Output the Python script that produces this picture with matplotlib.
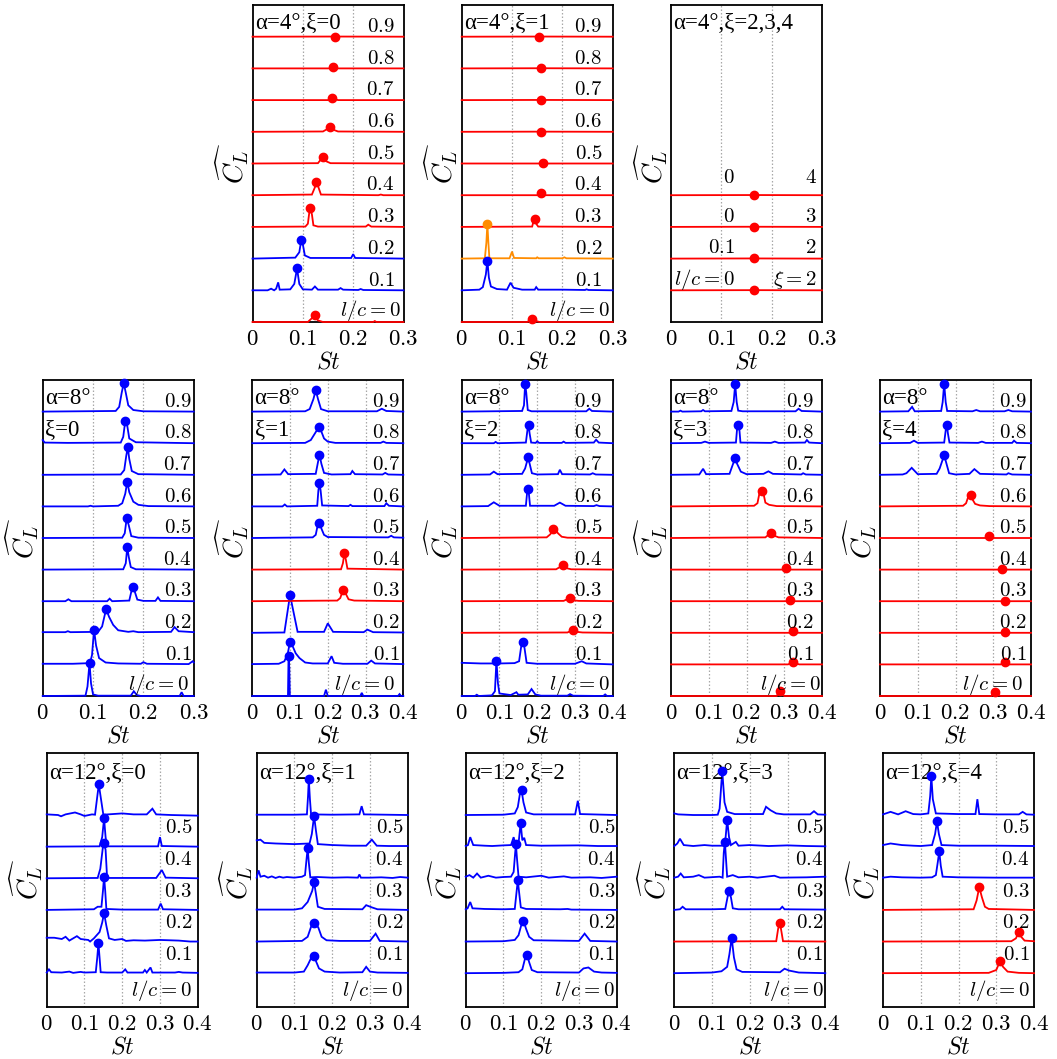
import numpy as np
import matplotlib
matplotlib.use("Agg")
import matplotlib.pyplot as plt
from matplotlib.transforms import blended_transform_factory

plt.rcParams['mathtext.fontset'] = 'cm'
plt.rcParams['font.family'] = ['Liberation Serif', 'DejaVu Serif']

B, R, O = 'b', 'r', 'o'
COLORS = {'b': '#0000FF', 'r': '#FF0000', 'o': '#FF8C00'}

# ---------------- data: each curve = (colour, St vertices, amplitude vertices) -------------
A4_X0 = [
    (R, [0, .11, .118, .124, .13, .14, .24, .243, .246, .3], [0, 0, .12, .22, .05, 0, 0, .03, 0, 0]),
    (B, [0, .03, .037, .043, .047, .051, .054, .075, .083, .0885, .093, .1, .118, .124, .13, .17, .175, .18, .21, .215, .22, .3],
        [0, 0, .05, 0, .05, .25, .02, .03, .2, .69, .2, .03, .02, .12, .02, .02, .07, .02, .01, .04, .01, 0]),
    (B, [0, .085, .093, .097, .1, .104, .115, .196, .2, .204, .3], [0, .03, .2, .6, .45, .1, .02, .02, .14, .02, 0]),
    (R, [0, .105, .11, .114, .118, .121, .13, .225, .23, .236, .3], [0, .01, .1, .6, .4, .05, .01, .01, .07, .01, 0]),
    (R, [0, .118, .124, .127, .131, .136, .25, .255, .26, .3], [0, .02, .25, .42, .25, .02, 0, .02, 0, 0]),
    (R, [0, .13, .137, .14, .145, .155, .3], [0, .01, .15, .2, .08, .01, 0]),
    (R, [0, .14, .15, .154, .158, .17, .3], [0, .01, .1, .15, .08, .01, 0]),
    (R, [0, .15, .155, .158, .162, .17, .3], [0, 0, .05, .08, .04, 0, 0]),
    (R, [0, .152, .159, .165, .3], [0, 0, .04, 0, 0]),
    (R, [0, .163, .3], [0, .005, 0]),
]

A4_X1 = [
    (R, [0, .13, .137, .14, .145, .155, .3], [0, 0, .06, .1, .04, 0, 0]),
    (B, [0, .035, .042, .048, .051, .054, .058, .07, .09, .097, .103, .12, .145, .148, .152, .2, .245, .248, .252, .3],
        [0, .02, .1, .5, .94, .4, .12, .04, .02, .24, .08, .02, .02, .1, .02, .02, .01, .03, .01, 0]),
    (O, [0, .046, .049, .051, .053, .055, .095, .1, .104, .148, .15, .153, .2, .204, .208, .3],
        [0, .01, .5, 1.09, .5, .01, .01, .22, .02, .01, .04, .01, .01, .04, .01, 0]),
    (R, [0, .14, .143, .145, .148, .152, .3], [0, .01, .2, .24, .1, .01, 0]),
    (R, [0, .15, .155, .157, .16, .165, .3], [0, 0, .05, .08, .03, 0, 0]),
    (R, [0, .155, .161, .167, .3], [0, 0, .03, 0, 0]),
    (R, [0, .157, .3], [0, .005, 0]),
    (R, [0, .157, .3], [0, .005, 0]),
    (R, [0, .157, .3], [0, .005, 0]),
    (R, [0, .153, .3], [0, .005, 0]),
]

A4_X234 = [
    (R, [0, .165, .3], [0, .005, 0]),
    (R, [0, .165, .3], [0, .005, 0]),
    (R, [0, .165, .3], [0, .005, 0]),
    (R, [0, .165, .3], [0, .005, 0]),
]

A8_X0 = [
    (B, [0, .085, .089, .093, .096, .1, .11, .175, .181, .187, .195, .272, .276, .28, .3],
        [0, .01, .3, 1.05, .4, .05, .01, .01, .15, .03, 0, 0, .12, 0, 0]),
    (B, [0, .06, .094, .098, .102, .106, .112, .125, .15, .195, .2, .207, .29, .298, .3],
        [.02, .02, .04, .3, 1.1, .6, .2, .06, .03, .02, .07, .02, .01, .1, .06]),
    (B, [0, .045, .05, .055, .11, .118, .126, .132, .14, .15, .17, .18, .19, .255, .262, .27, .3],
        [.02, .02, .05, .02, .03, .2, .75, .5, .25, .08, .03, .05, .02, .03, .18, .05, .02]),
    (B, [0, .045, .051, .057, .128, .133, .138, .172, .176, .179, .183, .188, .2, .224, .229, .234, .3],
        [0, 0, .06, 0, 0, .08, 0, .02, .3, .45, .3, .05, .01, .01, .12, .01, 0]),
    (B, [0, .16, .165, .168, .171, .175, .185, .3], [0, .01, .2, .7, .4, .08, .01, 0]),
    (B, [0, .158, .163, .167, .171, .176, .19, .3], [0, .01, .15, .64, .4, .06, .01, 0]),
    (B, [0, .09, .095, .1, .15, .158, .164, .168, .172, .18, .19, .21, .3],
        [0, 0, .02, 0, .02, .1, .4, .78, .45, .15, .05, .01, 0]),
    (B, [0, .155, .162, .166, .169, .172, .177, .19, .3], [0, .01, .15, .6, .87, .5, .12, .02, 0]),
    (B, [0, .004, .05, .155, .16, .164, .168, .172, .185, .3], [.1, .02, .01, .02, .2, .7, .55, .15, .03, 0]),
    (B, [0, .145, .152, .157, .161, .165, .17, .18, .2, .3], [0, .02, .15, .6, .9, .6, .2, .05, .01, 0]),
]

A8_X1 = [
    (B, [0, .0945, .096, .098, .0995, .19, .195, .2, .286, .29, .294, .386, .39, .394, .4],
        [0, 0, 1.26, .9, 0, 0, .2, 0, 0, .1, 0, 0, .06, 0, 0]),
    (B, [0, .07, .085, .094, .1, .106, .115, .125, .14, .16, .2, .21, .217, .24, .305, .315, .325, .4],
        [.01, .02, .1, .35, .72, .6, .35, .2, .06, .03, .03, .26, .05, .02, .02, .12, .03, .01]),
    (B, [0, .085, .1, .105, .12, .19, .2, .214, .295, .305, .32, .4],
        [0, .01, 1.2, .9, .03, .03, .3, .03, .02, .1, .02, .01]),
    (R, [0, .225, .233, .24, .247, .255, .27, .4], [0, .02, .1, .34, .25, .06, .02, 0]),
    (R, [0, .235, .24, .244, .248, .252, .4], [0, .01, .2, .52, .3, .03, 0]),
    (B, [0, .16, .168, .174, .178, .183, .19, .2, .36, .368, .375, .4],
        [0, .02, .1, .45, .48, .3, .1, .03, .02, .07, .02, .01]),
    (B, [0, .08, .086, .092, .172, .175, .178, .181, .185, .255, .26, .265, .35, .355, .362, .4],
        [0, 0, .06, 0, .02, .5, .75, .5, .03, .01, .05, .01, .01, .1, .02, 0]),
    (B, [0, .075, .085, .095, .168, .174, .178, .183, .19, .21, .26, .265, .272, .345, .352, .36, .4],
        [0, .01, .17, .02, .03, .4, .64, .35, .06, .01, .02, .12, .02, .01, .06, .01, 0]),
    (B, [0, .14, .155, .168, .176, .182, .19, .2, .22, .34, .347, .355, .4],
        [0, .01, .1, .35, .5, .4, .15, .05, .01, .01, .05, .01, 0]),
    (B, [0, .14, .152, .162, .168, .174, .182, .2, .33, .343, .355, .4],
        [0, .01, .08, .4, .68, .4, .08, .01, .01, .09, .02, 0]),
]

A8_X2 = [
    (B, [0, .035, .04, .045, .08, .088, .092, .096, .1, .13, .145, .15, .175, .185, .195, .21, .28, .287, .295, .375, .38, .385, .4],
        [0, 0, .04, 0, .02, .15, 1.12, .4, .08, .03, .12, .04, .05, .22, .05, .01, .01, .06, .01, 0, .05, 0, 0]),
    (B, [0, .05, .1, .14, .152, .158, .162, .166, .172, .2, .3, .318, .33, .4],
        [.05, .03, .03, .04, .1, .6, .72, .55, .05, .02, .02, .1, .03, 0]),
    (R, [0, .28, .293, .296, .305, .32, .4], [0, .01, .08, .1, .03, .01, 0]),
    (R, [0, .27, .283, .287, .295, .31, .4], [0, .01, .08, .1, .03, .01, 0]),
    (R, [0, .25, .263, .269, .276, .29, .4], [0, .01, .1, .14, .05, .01, 0]),
    (R, [0, .225, .235, .242, .248, .255, .265, .28, .4], [0, .02, .12, .3, .29, .15, .04, .01, 0]),
    (B, [0, .07, .085, .1, .17, .173, .175, .178, .181, .245, .26, .275, .35, .357, .365, .4],
        [0, .01, .13, .02, .02, .4, .54, .4, .02, .02, .12, .02, .01, .04, .01, 0]),
    (B, [0, .075, .085, .095, .16, .168, .176, .181, .186, .2, .255, .26, .266, .34, .347, .355, .4],
        [0, .01, .1, .02, .03, .2, .55, .3, .05, .01, .02, .16, .02, .01, .05, .01, 0]),
    (B, [0, .085, .09, .095, .17, .174, .177, .18, .184, .196, .2, .205, .265, .27, .275, .35, .356, .363, .4],
        [0, 0, .04, 0, .02, .4, .58, .3, .02, .01, .06, .01, .01, .05, .01, .02, .11, .02, 0]),
    (B, [0, .16, .165, .168, .171, .175, .185, .33, .338, .345, .4],
        [0, .02, .2, .87, .6, .05, .01, .01, .09, .02, 0]),
]

A8_X3 = [
    (R, [0, .28, .285, .29, .295, .3, .4], [0, 0, .1, .15, .05, 0, 0]),
    (R, [0, .31, .318, .3235, .33, .34, .4], [0, 0, .04, .07, .03, 0, 0]),
    (R, [0, .315, .3235, .33, .4], [0, 0, .05, 0, 0]),
    (R, [0, .305, .3155, .325, .4], [0, 0, .04, 0, 0]),
    (R, [0, .295, .305, .315, .4], [0, 0, .05, 0, 0]),
    (R, [0, .25, .26, .265, .272, .285, .4], [0, .02, .12, .17, .08, .02, 0]),
    (R, [0, .22, .229, .234, .24, .246, .25, .26, .28, .4], [0, .02, .1, .4, .48, .35, .12, .05, .01, 0]),
    (B, [0, .075, .085, .093, .155, .163, .17, .175, .185, .2, .245, .258, .27, .345, .35, .357, .4],
        [0, .01, .19, .02, .03, .3, .53, .35, .1, .02, .03, .11, .03, .01, .05, .01, 0]),
    (B, [0, .08, .09, .1, .172, .175, .178, .181, .184, .265, .275, .285, .355, .36, .366, .4],
        [0, .01, .05, .01, .02, .45, .58, .45, .02, .01, .05, .01, .02, .1, .02, 0]),
    (B, [0, .02, .025, .03, .08, .085, .09, .16, .166, .17, .174, .178, .19, .33, .338, .346, .4],
        [0, 0, .03, 0, .01, .05, .01, .02, .3, .87, .3, .03, .01, .01, .09, .02, 0]),
]

A8_X4 = [
    (R, [0, .295, .3, .304, .31, .32, .4], [0, 0, .1, .12, .05, 0, 0]),
    (R, [0, .32, .33, .34, .4], [0, 0, .07, 0, 0]),
    (R, [0, .322, .33, .338, .4], [0, 0, .02, 0, 0]),
    (R, [0, .322, .33, .338, .4], [0, 0, .02, 0, 0]),
    (R, [0, .315, .323, .33, .4], [0, 0, .02, 0, 0]),
    (R, [0, .28, .289, .298, .4], [0, 0, .06, 0, 0]),
    (R, [0, .22, .228, .235, .24, .246, .252, .265, .29, .4], [0, .02, .1, .35, .37, .2, .08, .03, .01, 0]),
    (B, [0, .06, .07, .084, .1, .15, .158, .17, .175, .183, .2, .237, .25, .265, .335, .34, .35, .4],
        [0, .01, .05, .22, .02, .03, .2, .62, .4, .05, .01, .03, .18, .03, .01, .05, .01, 0]),
    (B, [0, .08, .09, .1, .17, .174, .177, .18, .184, .26, .27, .28, .35, .355, .362, .4],
        [0, .01, .08, .01, .02, .4, .58, .3, .02, .01, .05, .01, .01, .08, .01, 0]),
    (B, [0, .075, .085, .092, .162, .166, .17, .174, .178, .245, .255, .265, .33, .34, .35, .4],
        [0, .01, .15, .01, .02, .3, .88, .3, .02, .01, .05, .01, .01, .05, .01, 0]),
]

A12_X0 = [
    (B, [0, .006, .012, .04, .06, .07, .09, .1, .13, .134, .137, .14, .143, .16, .2, .208, .214, .255, .26, .265, .275, .28, .34, .35, .36, .4],
        [.02, .12, .03, .02, .05, .01, .04, .02, .03, .5, .95, .5, .03, .02, .02, .12, .02, .02, .1, .02, .18, .02, .02, .04, .02, .01]),
    (B, [0, .02, .04, .05, .06, .08, .09, .11, .115, .125, .14, .147, .152, .158, .165, .18, .2, .21, .23, .26, .3, .35, .38, .4],
        [.12, .12, .08, .15, .03, .17, .08, .05, 0, .1, .3, .6, .9, .5, .1, .05, .08, .02, .04, .03, .05, .03, 0, 0]),
    (B, [0, .125, .135, .145, .149, .152, .155, .158, .2, .295, .302, .308, .4],
        [0, .02, .1, .1, .6, 1.05, .6, .03, .01, .01, .2, .02, 0]),
    (B, [0, .135, .142, .149, .152, .156, .16, .29, .305, .315, .4],
        [0, .01, .3, 1.0, 1.1, .9, .01, .01, .26, .02, 0]),
    (B, [0, .14, .147, .152, .156, .16, .295, .3, .305, .4], [0, .01, .3, .89, .3, .01, .01, .3, .02, 0]),
    (B, [0, .03, .038, .05, .075, .09, .1, .12, .128, .138, .15, .2, .23, .265, .28, .29, .33, .4],
        [.02, 0, -.04, .02, .08, .02, -.03, .02, .01, .97, .01, .05, .02, .02, .2, .02, 0, -.02]),
]

A12_X1 = [
    (B, [0, .1, .125, .135, .145, .152, .158, .165, .18, .22, .28, .29, .3, .32, .4],
        [.02, .02, .05, .25, .5, .54, .35, .15, .05, .02, .03, .2, .05, .02, .01]),
    (B, [0, .12, .135, .145, .152, .163, .172, .185, .22, .3, .315, .326, .4],
        [0, .02, .15, .5, .58, .45, .15, .04, .02, .02, .25, .02, 0]),
    (B, [0, .1, .12, .135, .147, .152, .157, .162, .18, .28, .29, .305, .32, .4],
        [.01, .01, .05, .25, .6, .88, .5, .1, .03, .02, .15, .08, .02, 0]),
    (B, [0, .005, .01, .02, .03, .04, .05, .06, .07, .08, .1, .12, .128, .132, .135, .138, .142, .16, .2, .24, .268, .272, .276, .3, .33, .36, .38, .4],
        [.02, .25, .05, .08, .02, .06, .01, .05, .02, .04, .02, .05, .1, .6, .95, .5, .03, .04, .02, .03, .02, .12, .02, .02, .03, .01, .04, .02]),
    (B, [0, .01, .02, .05, .1, .14, .146, .152, .157, .162, .2, .25, .29, .305, .318, .35, .4],
        [.2, .22, .12, .1, .08, .1, .4, .97, .5, .08, .05, .03, .03, .22, .03, .02, .02]),
    (B, [0, .1, .133, .136, .138, .141, .144, .2, .272, .278, .284, .4],
        [.01, .01, .02, .6, 1.14, .5, .02, .01, .02, .28, .02, 0]),
]

A12_X2 = [
    (B, [0, .1, .14, .15, .158, .163, .168, .175, .19, .3, .312, .325, .34, .36, .4],
        [0, .01, .03, .12, .5, .58, .35, .1, .03, .02, .15, .18, .05, .02, .01]),
    (B, [0, .1, .13, .14, .148, .153, .16, .168, .18, .3, .315, .33, .4],
        [0, .01, .05, .2, .55, .66, .4, .15, .04, .02, .25, .02, 0]),
    (B, [0, .005, .012, .018, .05, .1, .13, .135, .138, .142, .146, .16, .25, .27, .28, .4],
        [.02, .05, .25, .05, .03, .02, .03, .6, .93, .5, .08, .03, .02, .03, .01, 0]),
    (B, [0, .01, .02, .03, .04, .06, .08, .1, .12, .127, .131, .133, .136, .14, .16, .2, .22, .26, .28, .33, .36, .4],
        [.05, .1, .02, .15, .02, .08, .02, .04, .05, .2, .8, 1.07, .6, .05, .03, .08, .02, .06, .02, .03, .01, .05]),
    (B, [0, .006, .012, .02, .05, .07, .1, .12, .127, .132, .14, .1455, .15, .155, .16, .2, .3, .35, .4],
        [.02, .05, .3, .05, .03, .02, .04, .05, .3, .05, .1, .75, .2, .28, .05, .03, .04, .02, .02]),
    (B, [0, .1, .13, .138, .144, .148, .153, .16, .18, .29, .297, .303, .4],
        [0, .01, .05, .25, .7, .78, .4, .08, .02, .02, .45, .03, 0]),
]

A12_X3 = [
    (B, [0, .1, .125, .14, .146, .152, .158, .165, .18, .28, .292, .305, .33, .4],
        [0, .02, .06, .2, .6, 1.12, .5, .12, .04, .03, .14, .08, .02, 0]),
    (R, [0, .27, .275, .28, .284, .288, .4], [0, .01, .4, .58, .3, .01, 0]),
    (B, [0, .015, .022, .03, .1, .135, .141, .145, .15, .155, .17, .28, .286, .292, .4],
        [0, .02, .1, .02, .02, .03, .4, .6, .4, .05, .02, .02, .1, .02, .01]),
    (B, [0, .01, .017, .025, .05, .065, .08, .12, .128, .131, .134, .137, .14, .155, .17, .2, .22, .265, .28, .35, .4],
        [.02, .05, .15, .03, .05, .1, .02, .05, .02, .8, 1.16, .6, .05, .1, .03, .05, .02, .08, .02, .03, .05]),
    (B, [0, .008, .015, .025, .05, .08, .1, .13, .136, .14, .145, .15, .163, .17, .2, .25, .3, .35, .4],
        [.02, .1, .25, .05, .02, .05, .03, .03, .3, .85, .3, .05, .15, .03, .05, .02, .04, .02, .01]),
    (B, [0, .01, .05, .1, .115, .12, .127, .133, .14, .16, .235, .243, .255, .27, .29, .36, .37, .38, .4],
        [.05, .02, 0, 0, .01, .2, 1.4, .4, .1, .03, .03, .26, .15, .05, .02, .02, .12, .02, .01]),
]

A12_X4 = [
    (R, [0, .28, .3, .31, .318, .33, .36, .4], [0, .01, .1, .38, .2, .05, .01, 0]),
    (R, [0, .34, .352, .36, .366, .375, .4], [0, .01, .1, .3, .15, .03, .01]),
    (R, [0, .24, .248, .255, .262, .27, .28, .4], [0, .02, .3, .72, .4, .1, .03, 0]),
    (B, [0, .02, .05, .1, .13, .14, .145, .149, .153, .158, .2, .3, .4],
        [.02, .05, .03, .02, .03, .1, .5, .85, .4, .05, .03, .02, .02]),
    (B, [0, .02, .05, .08, .1, .13, .138, .143, .148, .155, .2, .3, .4],
        [.05, .1, .05, .03, .02, .05, .4, .8, .4, .05, .03, .03, .02]),
    (B, [0, .02, .04, .06, .08, .1, .12, .125, .128, .132, .14, .2, .245, .25, .255, .3, .36, .37, .38, .4],
        [.02, .1, .02, .12, .03, .02, .05, .6, 1.23, .5, .05, .03, .03, .5, .03, .02, .02, .1, .02, .01]),
]

LC_LABELS = ["$l/c = 0$", "$0.1$", "$0.2$", "$0.3$", "$0.4$", "$0.5$", "$0.6$", "$0.7$", "$0.8$", "$0.9$"]
X234_LEFT = ["$l/c = 0$", "$0.1$", "$0$", "$0$"]
X234_RIGHT = [r"$\xi = 2$", "$2$", "$3$", "$4$"]

TICKS_03 = [0, 0.1, 0.2, 0.3]
TICKS_04 = [0, 0.1, 0.2, 0.3, 0.4]
TICK_LABELS = ["$0$", "$0.1$", "$0.2$", "$0.3$", "$0.4$"]

# ---------------- layout (pixels of a 1057 x 1059 figure) ----------------
W, H = 1057, 1059
ROW_TB = {0: (5, 322), 1: (380, 696), 2: (752.7, 1006.7)}
COL_L = {0: {1: 252.5, 2: 461.7, 3: 671},
         1: {0: 42.7, 1: 252.3, 2: 461.7, 3: 671, 4: 880},
         2: {0: 46.7, 1: 256.7, 2: 465.7, 3: 674.3, 4: 883}}
AX_W = 151
ROW_YLIM = {0: (0, 10), 1: (0, 10), 2: (-1.06, 6.97)}

# (row, col, data, title lines, xmax, first baseline, num-label x, l/c-label x)
PANELS = [
    (0, 1, A4_X0, ["α=4°,ξ=0"], 0.3, 0, 0.94, 0.985),
    (0, 2, A4_X1, ["α=4°,ξ=1"], 0.3, 0, 0.93, 0.98),
    (0, 3, A4_X234, ["α=4°,ξ=2,3,4"], 0.3, 1, None, None),
    (1, 0, A8_X0, ["α=8°", "ξ=0"], 0.3, 0, 0.985, 0.965),
    (1, 1, A8_X1, ["α=8°", "ξ=1"], 0.4, 0, 0.978, 0.945),
    (1, 2, A8_X2, ["α=8°", "ξ=2"], 0.4, 0, 0.93, 0.978),
    (1, 3, A8_X3, ["α=8°", "ξ=3"], 0.4, 0, 0.947, 0.99),
    (1, 4, A8_X4, ["α=8°", "ξ=4"], 0.4, 0, 0.973, 0.947),
    (2, 0, A12_X0, ["α=12°,ξ=0"], 0.4, 0, 0.963, 0.963),
    (2, 1, A12_X1, ["α=12°,ξ=1"], 0.4, 0, 0.97, 0.97),
    (2, 2, A12_X2, ["α=12°,ξ=2"], 0.4, 0, 0.99, 0.99),
    (2, 3, A12_X3, ["α=12°,ξ=3"], 0.4, 0, 0.987, 0.987),
    (2, 4, A12_X4, ["α=12°,ξ=4"], 0.4, 0, 0.97, 0.97),
]

fig = plt.figure(figsize=(W / 100, H / 100), dpi=100)

for row, col, curves, title, xmax, first, numx, lcx in PANELS:
    top, bot = ROW_TB[row]
    left = COL_L[row][col]
    ax = fig.add_axes([left / W, (H - bot) / H, AX_W / W, (bot - top) / H])
    ax.set_xlim(0, xmax)
    ax.set_ylim(*ROW_YLIM[row])
    ticks = TICKS_03 if xmax < 0.35 else TICKS_04
    for t in ticks[1:-1]:
        ax.axvline(t, color='#a8a8a8', ls=(0, (1.2, 1.6)), lw=0.9, zorder=1)
    ax.set_xticks(ticks)
    ax.set_xticklabels(TICK_LABELS[:len(ticks)])
    ax.set_yticks([])
    ax.tick_params(axis='x', length=0, pad=5, labelsize=16.5)
    for s in ax.spines.values():
        s.set_linewidth(1.3)
    ax.set_xlabel("$St$", fontsize=17, labelpad=1)
    ax.set_ylabel(r"$\widehat{C_L}$", fontsize=20, labelpad=1)

    trans = blended_transform_factory(ax.transAxes, ax.transData)
    for k, (c, st, amp) in enumerate(curves):
        base = first + k
        st = np.asarray(st, float)
        y = base + np.asarray(amp, float)
        ax.plot(st, y, color=COLORS[c], lw=1.3, zorder=3, clip_on=False,
                solid_joinstyle='miter')
        j = int(np.argmax(amp))
        ax.plot(st[j], y[j], 'o', color=COLORS[c], ms=6, zorder=4, clip_on=False)
        if numx is None:
            continue
        lab = LC_LABELS[k]
        lx = lcx if k == 0 else numx
        if row < 2:
            ax.text(lx, base + (0.2 if k == 0 else 0.15), lab, transform=trans,
                    ha='right', va='baseline', fontsize=15, zorder=5)
        else:
            ax.text(lx, base - 0.14, lab, transform=trans,
                    ha='right', va='top', fontsize=15, zorder=5)

    if numx is None:
        offs = [0.17, 0.17, 0.17, 0.4]
        for k in range(len(curves)):
            base = first + k
            ax.text(0.127, base + offs[k], X234_LEFT[k], ha='right', va='baseline', fontsize=15)
            ax.text(0.965, base + offs[k], X234_RIGHT[k], transform=trans,
                    ha='right', va='baseline', fontsize=15)

    if len(title) == 1:
        ty = 0.92 if row == 2 else 0.943
        ax.text(0.015, ty, title[0], transform=ax.transAxes, ha='left', va='center', fontsize=16.5)
    else:
        ax.text(0.015, 0.94, title[0], transform=ax.transAxes, ha='left', va='center', fontsize=16.5)
        ax.text(0.015, 0.84, title[1], transform=ax.transAxes, ha='left', va='center', fontsize=16.5)

fig.savefig("out.png", dpi=100)
